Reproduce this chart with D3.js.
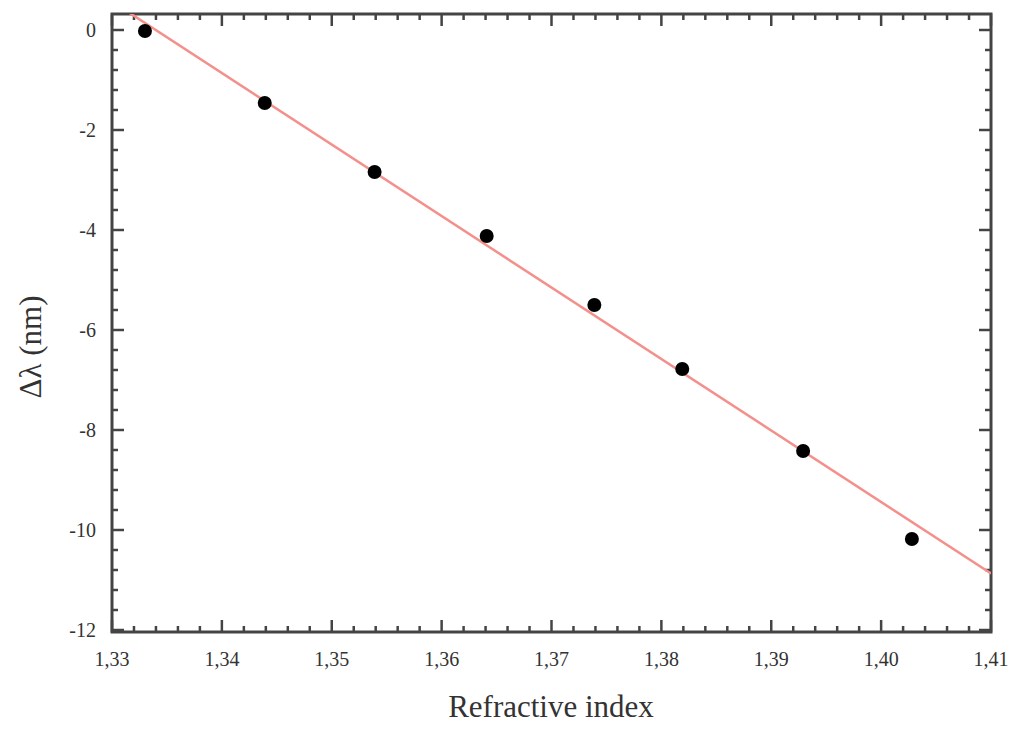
<!DOCTYPE html>
<html lang="en">
<head>
  <meta charset="UTF-8">
  <title>Refractive index vs shift</title>
  <script src="https://d3js.org/d3.v7.min.js"></script>
  <style>
    body { margin: 0; background: #fff; }
    text { font-family: "Liberation Serif", "DejaVu Serif", serif; fill: #333; }
  </style>
</head>
<body>
  <div id="chart"></div>
  <script>
    // measured points
    const refIndex = [1.333, 1.3439, 1.3539, 1.3641, 1.3739, 1.3819, 1.3929, 1.4028];
    const shift = [-0.02, -1.46, -2.84, -4.12, -5.5, -6.78, -8.42, -10.18];
    // linear fit, end points
    const fitX = [1.33, 1.41];
    const fitY = [0.57, -10.87];
    const xTicks = [1.33, 1.34, 1.35, 1.36, 1.37, 1.38, 1.39, 1.40, 1.41];
    const yTicks = [0, -2, -4, -6, -8, -10, -12];

    const width = 1024, height = 731;
    const m = { left: 112, right: 33, top: 14, bottom: 99 };
    const iw = width - m.left - m.right;
    const ih = height - m.top - m.bottom;

    const svg = d3.select("#chart").append("svg")
      .attr("width", width).attr("height", height);
    const g = svg.append("g").attr("transform", `translate(${m.left},${m.top})`);

    const x = d3.scaleLinear().domain([1.33, 1.41]).range([0, iw]);
    const y = d3.scaleLinear().domain([-12.04, 0.32]).range([ih, 0]);

    g.append("clipPath").attr("id", "clip")
      .append("rect").attr("width", iw).attr("height", ih);

    const fmt = d => d.toFixed(2).replace(".", ",");
    const xMinor = d3.range(0, 41).map(i => 1.33 + i * 0.002);
    const yMinor = d3.range(0, 31).map(i => -12 + i * 0.4).filter(v => v <= 0.32);

    const tickCol = "#444";
    // bottom and top ticks (inward)
    [[ih, -1], [0, 1]].forEach(([y0, dir]) => {
      g.selectAll(null).data(xMinor).enter().append("line")
        .attr("x1", d => x(d)).attr("x2", d => x(d))
        .attr("y1", y0).attr("y2", d => y0 + dir * (xTicks.some(t => Math.abs(t - d) < 1e-6) ? 12 : 6))
        .attr("stroke", tickCol).attr("stroke-width", 2.5);
    });
    [[0, 1], [iw, -1]].forEach(([x0, dir]) => {
      g.selectAll(null).data(yMinor).enter().append("line")
        .attr("y1", d => y(d)).attr("y2", d => y(d))
        .attr("x1", x0).attr("x2", d => x0 + dir * (yTicks.some(t => Math.abs(t - d) < 1e-6) ? 12 : 6))
        .attr("stroke", tickCol).attr("stroke-width", 2.5);
    });

    g.append("rect").attr("width", iw).attr("height", ih)
      .attr("fill", "none").attr("stroke", tickCol).attr("stroke-width", 3);

    // tick labels
    g.selectAll(null).data(xTicks).enter().append("text")
      .attr("x", d => x(d)).attr("y", ih + 34)
      .attr("text-anchor", "middle").attr("font-size", 20)
      .text(fmt);
    g.selectAll(null).data(yTicks).enter().append("text")
      .attr("x", -16).attr("y", d => y(d)).attr("dy", "0.35em")
      .attr("text-anchor", "end").attr("font-size", 20)
      .text(d => d);

    // fit line
    const line = d3.line().x(d => x(d[0])).y(d => y(d[1]));
    g.append("path")
      .datum(d3.zip(fitX, fitY))
      .attr("clip-path", "url(#clip)")
      .attr("d", line)
      .attr("fill", "none").attr("stroke", "#f4908c").attr("stroke-width", 2.5);

    // points
    g.selectAll(null).data(d3.zip(refIndex, shift)).enter().append("circle")
      .attr("cx", d => x(d[0])).attr("cy", d => y(d[1]))
      .attr("r", 7).attr("fill", "#000");

    // axis titles
    svg.append("text")
      .attr("x", 551).attr("y", 717)
      .attr("text-anchor", "middle").attr("font-size", 31)
      .text("Refractive index");
    svg.append("text")
      .attr("transform", "translate(41,347) rotate(-90)")
      .attr("text-anchor", "middle").attr("font-size", 31)
      .text("Δλ (nm)");
  </script>
</body>
</html>
